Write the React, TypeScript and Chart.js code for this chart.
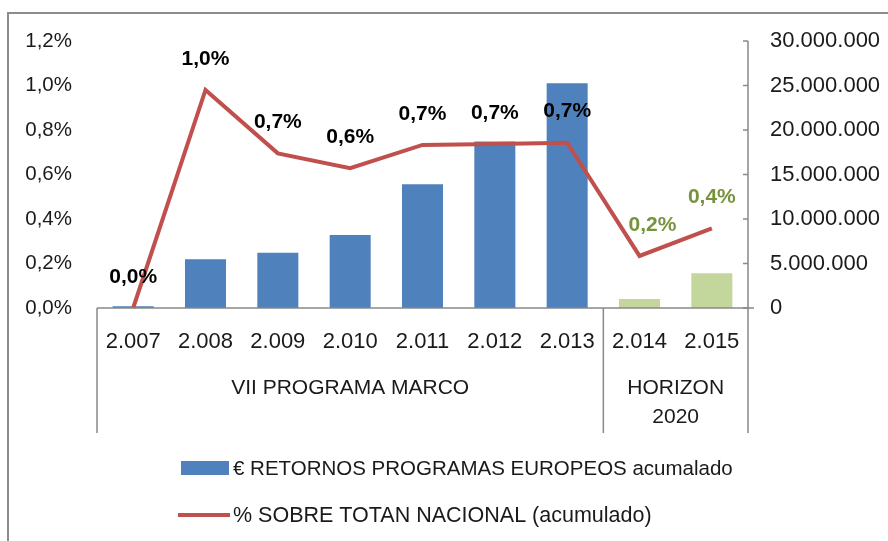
import { useEffect, useRef } from 'react';
import { Chart, registerables } from 'chart.js';

Chart.register(...registerables);

// ---- data ----
const years = ['2.007', '2.008', '2.009', '2.010', '2.011', '2.012', '2.013', '2.014', '2.015'];
const retornosAcumulado = [200000, 5470000, 6200000, 8200000, 13900000, 18700000, 25250000, 1000000, 3900000];
const porcentajeNacional = [0.0, 0.98, 0.695, 0.628, 0.733, 0.737, 0.743, 0.234, 0.358];
const porcentajeLabels = ['0,0%', '1,0%', '0,7%', '0,6%', '0,7%', '0,7%', '0,7%', '0,2%', '0,4%'];
const groupNames = [['VII PROGRAMA MARCO'], ['HORIZON', '2020']];
const groupStart = [0, 7];
const groupEnd = [6, 8];
const legendLabels = ['€ RETORNOS PROGRAMAS EUROPEOS acumalado', '% SOBRE TOTAN NACIONAL (acumulado)'];

const BLUE = '#4F81BD';
const GREEN = '#C3D69B';
const RED = '#C0504D';
const LABEL_GREEN = '#77933C';
const AXIS = '#898989';
const TEXT = '#1a1a1a';
const FONT = '"Liberation Sans", Arial, sans-serif';

const groupOf = (i: number) => (i >= groupStart[1] ? 1 : 0);
const barColors = years.map((_, i) => (groupOf(i) === 0 ? BLUE : GREEN));
const labelColors = years.map((_, i) => (groupOf(i) === 0 ? '#000000' : LABEL_GREEN));

const fmtPct = (v: number) => v.toFixed(1).replace('.', ',') + '%';
const fmtThousands = (v: number) => Math.round(v).toString().replace(/\B(?=(\d{3})+(?!\d))/g, '.');

const overlayPlugin = {
  id: 'overlay',
  afterDraw(chart: any) {
    const { ctx, chartArea: ca, scales } = chart;
    const xs = scales.x;
    const y1 = scales.y1;
    const half = (xs.getPixelForValue(1) - xs.getPixelForValue(0)) / 2;
    const bottomY = ca.bottom + 125;
    ctx.save();

    // outer frame
    ctx.strokeStyle = '#8c8c8c';
    ctx.lineWidth = 2;
    ctx.strokeRect(8, 13, 1200, 1200);

    const line = (x1: number, yA: number, x2: number, yB: number) => {
      ctx.beginPath();
      ctx.moveTo(x1, yA);
      ctx.lineTo(x2, yB);
      ctx.stroke();
    };

    ctx.strokeStyle = AXIS;
    ctx.lineWidth = 1.5;
    // category axis line
    line(ca.left, ca.bottom, ca.right + 6, ca.bottom);
    // right value axis line
    line(ca.right, ca.top, ca.right, bottomY);
    // right axis tick marks (inside)
    y1.ticks.forEach((t: any) => {
      const y = y1.getPixelForValue(t.value);
      line(ca.right - 5, y, ca.right, y);
    });
    // group separators
    groupStart.forEach((s) => {
      const xx = xs.getPixelForValue(s) - half;
      line(xx, ca.bottom, xx, bottomY);
    });

    // group labels
    ctx.fillStyle = TEXT;
    ctx.font = `21px ${FONT}`;
    ctx.textAlign = 'center';
    ctx.textBaseline = 'middle';
    groupNames.forEach((lines, g) => {
      const cx = (xs.getPixelForValue(groupStart[g]) + xs.getPixelForValue(groupEnd[g])) / 2;
      lines.forEach((txt, k) => {
        ctx.fillText(txt, cx, ca.bottom + 80 + k * 29);
      });
    });

    // data labels on the line
    const meta = chart.getDatasetMeta(1);
    ctx.font = `bold 21px ${FONT}`;
    meta.data.forEach((pt: any, i: number) => {
      ctx.fillStyle = labelColors[i];
      const dx = i === 7 ? 13 : 0;
      ctx.fillText(porcentajeLabels[i], pt.x + dx, pt.y - 31);
    });

    // legend
    ctx.textAlign = 'left';
    ctx.fillStyle = BLUE;
    ctx.fillRect(181, 461, 48, 14);
    ctx.fillStyle = TEXT;
    ctx.font = `20.5px ${FONT}`;
    ctx.fillText(legendLabels[0], 233, 469);
    ctx.strokeStyle = RED;
    ctx.lineWidth = 4;
    line(178, 515, 230, 515);
    ctx.fillStyle = TEXT;
    ctx.font = `21.5px ${FONT}`;
    ctx.fillText(legendLabels[1], 233, 516);

    ctx.restore();
  },
};

export default function App() {
  const ref = useRef<HTMLCanvasElement | null>(null);

  useEffect(() => {
    if (!ref.current) return;
    const chart = new Chart(ref.current, {
      type: 'bar',
      data: {
        labels: years,
        datasets: [
          {
            type: 'bar',
            label: legendLabels[0],
            data: retornosAcumulado,
            backgroundColor: barColors,
            yAxisID: 'y1',
            order: 2,
            categoryPercentage: 1,
            barPercentage: 0.567,
          },
          {
            type: 'line',
            label: legendLabels[1],
            data: porcentajeNacional,
            borderColor: RED,
            backgroundColor: RED,
            borderWidth: 4,
            pointRadius: 0,
            tension: 0,
            yAxisID: 'y',
            order: 1,
            clip: false,
          } as any,
        ],
      },
      options: {
        responsive: false,
        animation: false,
        events: [],
        layout: { padding: { top: 41, left: 0, right: 0, bottom: 0 } },
        plugins: {
          legend: { display: false },
          tooltip: { enabled: false },
          title: { display: false },
        },
        scales: {
          x: {
            grid: { display: false },
            border: { display: false },
            ticks: {
              color: TEXT,
              font: { family: FONT, size: 22 },
              padding: 13,
              maxRotation: 0,
              autoSkip: false,
            },
            afterFit: (s: any) => {
              s.height = 233;
            },
          },
          y: {
            position: 'left',
            min: 0,
            max: 1.2,
            grid: { display: false },
            border: { display: false },
            ticks: {
              stepSize: 0.2,
              color: TEXT,
              font: { family: FONT, size: 20.5 },
              padding: 17,
              callback: (v: any) => fmtPct(Number(v)),
            },
            afterFit: (s: any) => {
              s.width = 97;
            },
          },
          y1: {
            position: 'right',
            min: 0,
            max: 30000000,
            grid: { display: false },
            border: { display: false },
            ticks: {
              stepSize: 5000000,
              color: TEXT,
              font: { family: FONT, size: 22 },
              padding: 14,
              callback: (v: any) => fmtThousands(Number(v)),
            },
            afterFit: (s: any) => {
              s.width = 140;
            },
          },
        },
      },
      plugins: [overlayPlugin],
    });
    return () => chart.destroy();
  }, []);

  return (
    <div style={{ position: 'absolute', left: 0, top: 0, width: 888, height: 541, background: '#fff' }}>
      <canvas ref={ref} width={888} height={541} style={{ display: 'block' }} />
    </div>
  );
}
